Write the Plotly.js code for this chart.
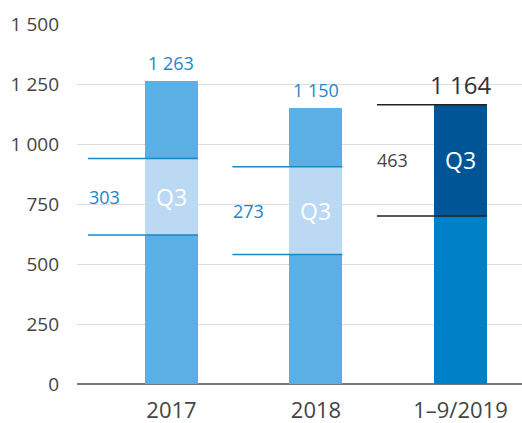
<!DOCTYPE html>
<html>
<head>
<meta charset="utf-8">
<script src="https://cdn.plot.ly/plotly-3.0.1.min.js"></script>
<style>html,body{margin:0;padding:0;background:#fff;}#chart{width:522px;height:423px;}</style>
</head>
<body>
<div id="chart"></div>
<script>
// Data
var categories = ['2017', '2018', '1–9/2019'];
var totals = [1263, 1150, 1164];
var totalLabels = ['1 263', '1 150', '1 164'];
var q3Low = [621, 540, 700];     // start of Q3 segment (as drawn)
var q3High = [940, 905, 1164];   // end of Q3 segment (as drawn)
var q3Labels = ['303', '273', '463'];
var yTicks = [0, 250, 500, 750, 1000, 1250, 1500];
var yTickText = ['0', '250', '500', '750', '1 000', '1 250', '1 500'];

var baseColors = ['#5aafe3', '#5aafe3', '#0080c6'];
var q3Colors = ['#bbd9f3', '#bbd9f3', '#005596'];
var lineColors = ['#1a87c9', '#1a87c9', '#222222'];
var labelColors = ['#1a87c9', '#1a87c9', '#444444'];
var totalColors = ['#1a87c9', '#1a87c9', '#333333'];

var barW = 0.367;
var font = 'Open Sans, Noto Sans, sans-serif';

var q3Seg = q3High.map(function(v, i){ return v - q3Low[i]; });
var topSeg = totals.map(function(v, i){ return v - q3High[i]; });

var traces = [
  {type: 'bar', x: categories, y: q3Low, marker: {color: baseColors}, width: barW, hoverinfo: 'none'},
  {type: 'bar', x: categories, y: q3Seg, marker: {color: q3Colors}, width: barW, hoverinfo: 'none'},
  {type: 'bar', x: categories, y: topSeg, marker: {color: baseColors}, width: barW, hoverinfo: 'none'}
];

var shapes = [];
var annotations = [];
categories.forEach(function(c, i){
  [q3Low[i], q3High[i]].forEach(function(v){
    shapes.push({type: 'line', xref: 'x', yref: 'y', x0: i - 0.578, x1: i + barW/2, y0: v, y1: v,
      line: {color: lineColors[i], width: 1.5}});
  });
  var mid = (q3Low[i] + q3High[i]) / 2;
  annotations.push({xref: 'x', yref: 'y', x: i, y: mid, text: 'Q3', showarrow: false,
    font: {family: font, size: 23, color: '#ffffff'}});
  annotations.push({xref: 'x', yref: 'y', x: i - 0.467, y: mid, text: q3Labels[i], showarrow: false,
    font: {family: font, size: 18, color: labelColors[i]}});
  annotations.push({xref: 'x', yref: 'y', x: i, y: totals[i], yshift: i === 2 ? 2 : 4, yanchor: 'bottom',
    text: totalLabels[i], showarrow: false,
    font: {family: font, size: i === 2 ? 24 : 18, color: totalColors[i]}});
});

var layout = {
  width: 522, height: 423,
  margin: {l: 77, r: 0, t: 24, b: 39},
  paper_bgcolor: '#fff', plot_bgcolor: '#fff',
  barmode: 'stack',
  showlegend: false,
  font: {family: font, color: '#444'},
  xaxis: {
    type: 'category', range: [-0.654, 2.426], showgrid: false, zeroline: false,
    showline: false, ticks: '', tickfont: {family: font, size: 22, color: '#444'},
    ticklabelstandoff: 11, fixedrange: true
  },
  yaxis: {
    range: [0, 1500], tickvals: yTicks, ticktext: yTickText, showgrid: true,
    gridcolor: '#dedede', gridwidth: 1, zeroline: true, zerolinecolor: '#777', zerolinewidth: 2,
    showline: false, ticks: '', tickfont: {family: font, size: 19, color: '#444'},
    ticklabelstandoff: 17, fixedrange: true
  },
  shapes: shapes,
  annotations: annotations
};

Plotly.newPlot('chart', traces, layout, {displayModeBar: false, staticPlot: true});
</script>
</body>
</html>
